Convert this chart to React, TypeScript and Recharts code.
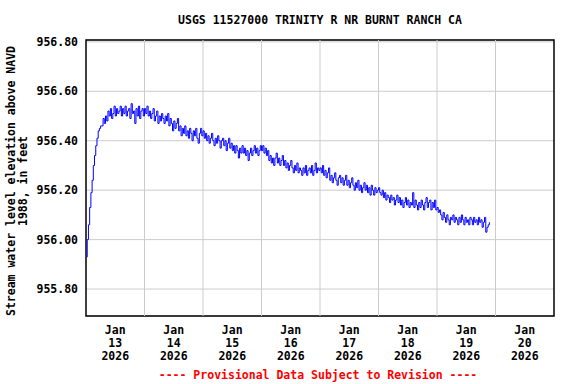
import React from "react";
import { LineChart, Line, XAxis, YAxis, CartesianGrid, ReferenceLine, ReferenceArea } from "recharts";

// Half-hourly stream water level (ft, NAVD 1988), starting Jan 13 2026 00:00
const levelDay1 = [
  955.93, 956.00, 956.06, 956.13, 956.19, 956.24, 956.30, 956.34, 956.38, 956.41, 956.44, 956.45, 956.46, 956.46, 956.49, 956.47,
  956.50, 956.48, 956.52, 956.50, 956.53, 956.49, 956.51, 956.54, 956.50, 956.53, 956.51, 956.52, 956.54, 956.50, 956.53, 956.51,
  956.54, 956.50, 956.52, 956.53, 956.49, 956.55, 956.51, 956.52, 956.47, 956.53, 956.50, 956.54, 956.49, 956.52, 956.53, 956.50,
];
const levelDay2 = [
  956.53, 956.51, 956.54, 956.50, 956.52, 956.49, 956.51, 956.53, 956.48, 956.50, 956.52, 956.47, 956.50, 956.48, 956.51, 956.49,
  956.47, 956.50, 956.48, 956.51, 956.46, 956.49, 956.47, 956.44, 956.48, 956.45, 956.47, 956.49, 956.44, 956.46, 956.42, 956.45,
  956.43, 956.46, 956.42, 956.44, 956.41, 956.45, 956.43, 956.40, 956.44, 956.42, 956.45, 956.41, 956.39, 956.43, 956.45, 956.42,
];
const levelDay3 = [
  956.44, 956.41, 956.43, 956.40, 956.42, 956.39, 956.41, 956.43, 956.40, 956.38, 956.41, 956.39, 956.42, 956.40, 956.37, 956.40,
  956.41, 956.38, 956.40, 956.36, 956.39, 956.41, 956.37, 956.39, 956.36, 956.38, 956.35, 956.38, 956.36, 956.33, 956.37, 956.35,
  956.38, 956.35, 956.37, 956.34, 956.36, 956.32, 956.35, 956.37, 956.34, 956.36, 956.38, 956.35, 956.37, 956.34, 956.36, 956.38,
];
const levelDay4 = [
  956.36, 956.38, 956.35, 956.37, 956.34, 956.36, 956.32, 956.34, 956.31, 956.33, 956.30, 956.33, 956.35, 956.31, 956.33, 956.30,
  956.32, 956.34, 956.30, 956.32, 956.29, 956.31, 956.28, 956.30, 956.32, 956.29, 956.27, 956.30, 956.28, 956.31, 956.27, 956.29,
  956.28, 956.26, 956.29, 956.27, 956.30, 956.26, 956.28, 956.29, 956.27, 956.30, 956.26, 956.28, 956.31, 956.27, 956.29, 956.28,
];
const levelDay5 = [
  956.29, 956.27, 956.30, 956.26, 956.28, 956.25, 956.27, 956.29, 956.24, 956.26, 956.23, 956.25, 956.27, 956.24, 956.22, 956.25,
  956.26, 956.23, 956.25, 956.22, 956.24, 956.26, 956.22, 956.24, 956.21, 956.23, 956.25, 956.22, 956.20, 956.23, 956.21, 956.24,
  956.20, 956.22, 956.19, 956.21, 956.23, 956.20, 956.22, 956.19, 956.21, 956.18, 956.22, 956.20, 956.18, 956.21, 956.19, 956.20,
];
const levelDay6 = [
  956.21, 956.19, 956.18, 956.20, 956.17, 956.19, 956.16, 956.18, 956.17, 956.15, 956.18, 956.16, 956.17, 956.14, 956.16, 956.18,
  956.15, 956.17, 956.14, 956.16, 956.13, 956.15, 956.17, 956.14, 956.16, 956.13, 956.15, 956.14, 956.19, 956.13, 956.16, 956.14,
  956.12, 956.15, 956.13, 956.16, 956.14, 956.12, 956.15, 956.17, 956.13, 956.15, 956.16, 956.12, 956.15, 956.13, 956.16, 956.12,
];
const levelDay7 = [
  956.13, 956.11, 956.12, 956.10, 956.08, 956.11, 956.09, 956.07, 956.10, 956.08, 956.06, 956.09, 956.08, 956.10, 956.07, 956.09,
  956.08, 956.06, 956.09, 956.07, 956.10, 956.08, 956.06, 956.09, 956.07, 956.08, 956.06, 956.09, 956.08, 956.06, 956.09, 956.07,
  956.08, 956.06, 956.09, 956.07, 956.08, 956.05, 956.07, 956.09, 956.03, 956.05, 956.06, 956.07,
];

const levels = [...levelDay1, ...levelDay2, ...levelDay3, ...levelDay4, ...levelDay5, ...levelDay6, ...levelDay7];
const hoursPerReading = 0.5;

const dayLabels = ["13", "14", "15", "16", "17", "18", "19", "20"];
const monthLabel = "Jan";
const yearLabel = "2026";
const yTicks = [955.8, 956.0, 956.2, 956.4, 956.6, 956.8];
const midnightHours = [24, 48, 72, 96, 120, 144, 168];
const labelHours = [12, 36, 60, 84, 108, 132, 156, 180];

const title = "USGS 11527000 TRINITY R NR BURNT RANCH CA";
const yTitle1 = "Stream water level elevation above NAVD";
const yTitle2 = "1988, in feet";
const footer = "---- Provisional Data Subject to Revision ----";

const data = levels.map((v, i) => ({ t: i * hoursPerReading, v }));

const FONT = "'DejaVu Sans Mono', monospace";
const FS = 11.5;
const Y_MIN = 955.691;
const Y_MAX = 956.8075;

const XTick = (props: any) => {
  const { x, y, payload } = props;
  const idx = labelHours.indexOf(payload.value);
  const day = dayLabels[idx] ?? "";
  return (
    <text x={x} textAnchor="middle" fontFamily={FONT} fontWeight="bold" fontSize={FS} fill="#000">
      <tspan x={x} y={y + 10}>{monthLabel}</tspan>
      <tspan x={x} y={y + 23}>{day}</tspan>
      <tspan x={x} y={y + 36}>{yearLabel}</tspan>
    </text>
  );
};

export default function App() {
  return (
    <div style={{ position: "absolute", left: 0, top: 0, width: 576, height: 384, background: "#fff" }}>
      <LineChart width={576} height={384} data={data} margin={{ top: 40, right: 22, bottom: 8, left: 0 }}>
        <CartesianGrid vertical={false} stroke="#cccccc" strokeWidth={1} />
        {midnightHours.map((h) => (
          <ReferenceLine key={h} x={h} stroke="#cccccc" strokeWidth={1} ifOverflow="hidden" />
        ))}
        <XAxis
          dataKey="t"
          type="number"
          domain={[0, 192]}
          ticks={labelHours}
          interval={0}
          axisLine={false}
          tickLine={false}
          height={60}
          tick={<XTick />}
        />
        <YAxis
          type="number"
          domain={[Y_MIN, Y_MAX]}
          ticks={yTicks}
          interval={0}
          allowDataOverflow
          axisLine={false}
          tickLine={false}
          width={86}
          tickFormatter={(v: number) => v.toFixed(2)}
          tick={{ fontFamily: FONT, fontWeight: "bold", fontSize: FS, fill: "#000" }}
        />
        <Line
          type="stepAfter"
          dataKey="v"
          stroke="#0000ff"
          strokeWidth={1}
          dot={false}
          isAnimationActive={false}
        />
        <ReferenceArea x1={0} x2={192} y1={Y_MIN} y2={Y_MAX} fill="none" stroke="#000" strokeWidth={1.5} ifOverflow="visible" />
      </LineChart>
      <svg width={576} height={384} style={{ position: "absolute", left: 0, top: 0, pointerEvents: "none" }}>
        <text x={320} y={24} textAnchor="middle" fontFamily={FONT} fontWeight="bold" fontSize={FS} fill="#000">{title}</text>
        <text transform="translate(15,181) rotate(-90)" textAnchor="middle" fontFamily={FONT} fontWeight="bold" fontSize={FS} fill="#000">{yTitle1}</text>
        <text transform="translate(27,181) rotate(-90)" textAnchor="middle" fontFamily={FONT} fontWeight="bold" fontSize={FS} fill="#000">{yTitle2}</text>
        <text x={318} y={379} textAnchor="middle" fontFamily={FONT} fontWeight="bold" fontSize={FS} fill="#ff0000">{footer}</text>
      </svg>
    </div>
  );
}
